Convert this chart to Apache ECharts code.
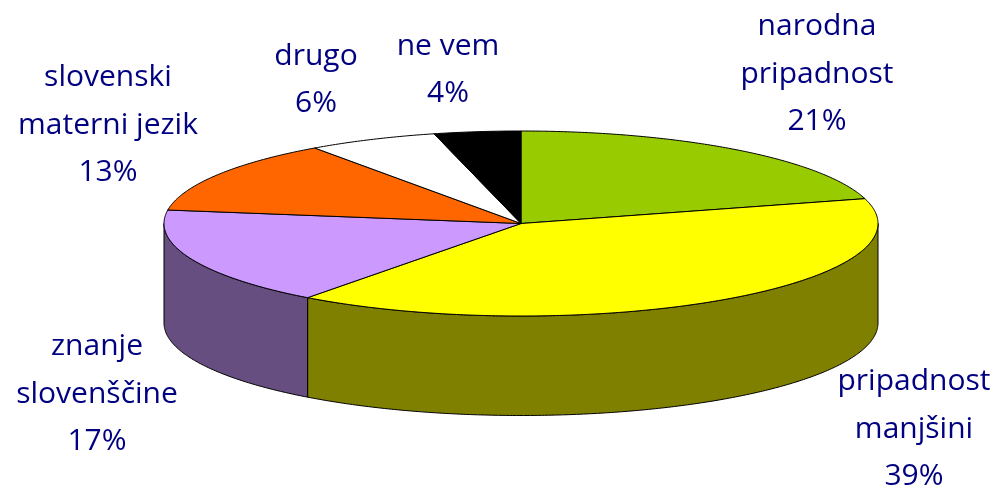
<!DOCTYPE html>
<html>
<head>
<meta charset="utf-8">
<style>html,body{margin:0;padding:0;background:#fff}#chart{width:991px;height:487px}</style>
<script src="https://cdn.jsdelivr.net/npm/echarts@6/dist/echarts.min.js"></script>
</head>
<body>
<div id="chart"></div>
<script>
const categories = ['narodna\npripadnost', 'pripadnost\nmanjšini', 'znanje\nslovenščine', 'slovenski\nmaterni jezik', 'drugo', 'ne vem'];
const values = [21, 39, 17, 13, 6, 4];
const topColors = ['#99CC00', '#FFFF00', '#CC99FF', '#FF6600', '#FFFFFF', '#000000'];
const wallColors = ['#4D6600', '#808000', '#664E80', '#803300', '#808080', '#000000'];
const labelCenters = [[817, 74], [914, 429], [97, 394], [108, 125], [316, 80], [448, 70]];

const CX = 521, CY = 223.5, RX = 357, RY = 92.5, DEPTH = 99.5;
const VIEW_SKEW = 1.2 * Math.PI / 180; // slight perspective shift of slice boundaries
const TEXT = '#000080', FONT = '"Open Sans", sans-serif', FONT_SIZE = 30, LINE = 47.5;
const total = values.reduce((a, b) => a + b, 0);

function rim(t, dy) { return [CX + RX * Math.sin(t), CY + dy - RY * Math.cos(t)]; }
function arc(a, b, dy) {
  const n = Math.max(2, Math.ceil((b - a) / 0.01)), pts = [];
  for (let i = 0; i <= n; i++) pts.push(rim(a + (b - a) * i / n, dy));
  return pts;
}
function angle(share) {
  const t = share / total * 2 * Math.PI;
  return t - VIEW_SKEW * Math.sin(t);
}
const starts = [];
values.reduce((acc, v, i) => { starts[i] = acc; return acc + v; }, 0);

function renderItem(params, api) {
  const i = params.dataIndex;
  const a = angle(starts[i]);
  const b = angle(starts[i] + api.value(0));
  const children = [];
  const wa = Math.max(a, Math.PI / 2), wb = Math.min(b, 3 * Math.PI / 2);
  if (wb > wa) {
    children.push({
      type: 'polygon',
      shape: { points: arc(wa, wb, 0).concat(arc(wa, wb, DEPTH).reverse()) },
      style: { fill: wallColors[i], stroke: '#000', lineWidth: 1, lineJoin: 'round' }
    });
  }
  children.push({
    type: 'polygon',
    shape: { points: [[CX, CY]].concat(arc(a, b, 0)) },
    style: { fill: topColors[i], stroke: '#000', lineWidth: 1, lineJoin: 'round' }
  });
  children.push({
    type: 'text',
    style: {
      text: categories[i] + '\n' + api.value(0) + '%',
      x: labelCenters[i][0], y: labelCenters[i][1],
      align: 'center', verticalAlign: 'middle',
      fill: TEXT, fontFamily: FONT, fontSize: FONT_SIZE, lineHeight: LINE
    }
  });
  return { type: 'group', children };
}

const chart = echarts.init(document.getElementById('chart'), null, { renderer: 'canvas' });
chart.setOption({
  animation: false,
  backgroundColor: '#fff',
  series: [{
    type: 'custom',
    coordinateSystem: 'none',
    renderItem,
    data: values.map((v, i) => ({ name: categories[i], value: [v] }))
  }]
});
</script>
</body>
</html>
